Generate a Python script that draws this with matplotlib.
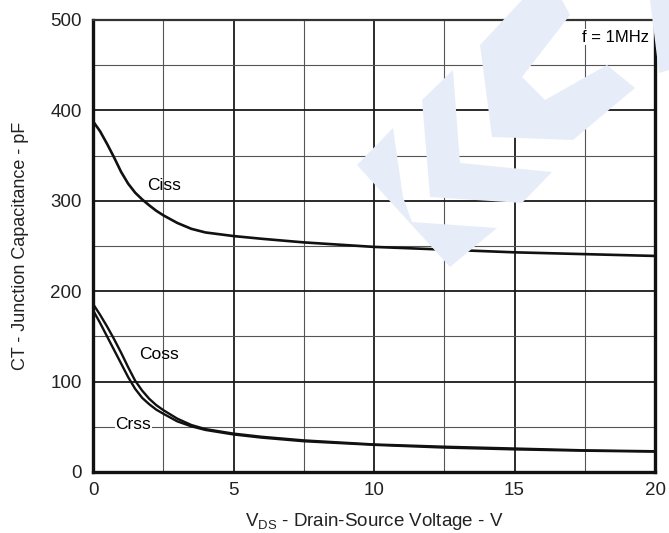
"""Junction capacitance vs drain-source voltage."""

import matplotlib

matplotlib.use("Agg")
import matplotlib.pyplot as plt
from matplotlib.patches import Polygon
from matplotlib.ticker import MultipleLocator

plt.rcParams["font.family"] = ["Liberation Sans", "DejaVu Sans"]
plt.rcParams["mathtext.fontset"] = "custom"
plt.rcParams["mathtext.rm"] = "Liberation Sans"

# capacitance curves read at 1 MHz
vds = [0, 0.25, 0.5, 0.75, 1, 1.25, 1.5, 1.75, 2, 2.25, 2.5, 3, 3.5, 4, 5, 6,
       7.5, 10, 12.5, 15, 17.5, 20]
ciss = [388, 377, 363, 348, 332, 319, 309, 301.5, 295, 289, 284, 275.5, 269, 265,
        261, 258, 254, 249, 246, 243, 241, 239]
coss = [186, 174, 161, 147, 132, 116, 101, 90, 81, 74, 68.5, 59, 52, 47.5,
        42.5, 39, 35, 30.5, 28, 26, 24, 23]
crss = [179, 165, 150, 135, 120, 105, 92, 82, 75, 69, 64.5, 56, 50.5, 46.5,
        41.5, 38, 34, 30, 27, 25, 23.5, 22.5]

curve_labels = ["Ciss", "Coss", "Crss"]
label_pos = [(2.52, 317), (2.35, 130), (1.44, 52)]

x_ticks = [0, 5, 10, 15, 20]
y_ticks = [0, 100, 200, 300, 400, 500]

W, H = 669, 533
fig = plt.figure(figsize=(W / 100, H / 100), dpi=100)

# faint logo in the background (pixel outlines)
logo = [
    [(357, 165), (393, 128), (403, 197), (412, 222), (497, 228), (450, 267)],
    [(422, 100), (453, 70), (460, 163), (552, 172), (522, 203), (430, 197)],
    [(480, 45), (522, 0), (562, 0), (570, 15), (522, 77), (545, 100),
     (607, 65), (635, 88), (573, 140), (492, 137)],
    [(650, 0), (669, 0), (669, 70), (659, 73)],
]
for pts in logo:
    fig.patches.append(Polygon([(x / W, 1 - y / H) for x, y in pts],
                               closed=True, transform=fig.transFigure,
                               facecolor="#e7edf8", edgecolor="none", zorder=0))

ax = fig.add_axes([93 / W, 1 - 472 / H, (655 - 93) / W, (472 - 20) / H])
ax.patch.set_alpha(0)

ax.plot(vds, ciss, color="#111111", lw=1.9, zorder=3)
ax.plot(vds, coss, color="#111111", lw=1.7, zorder=3)
ax.plot(vds, crss, color="#111111", lw=1.7, zorder=3)

for name, (lx, ly) in zip(curve_labels, label_pos):
    bbox = None
    if name == "Crss":
        bbox = dict(facecolor="white", edgecolor="none", pad=0.3)
    ax.text(lx, ly, name, fontsize=12.5, ha="center", va="center", zorder=4, bbox=bbox)

ax.text(18.6, 481, "f = 1MHz", fontsize=12, ha="center", va="center", zorder=4,
        bbox=dict(facecolor="white", edgecolor="none", pad=0.3))

ax.set_xlim(0, 20)
ax.set_ylim(0, 500)
ax.set_xticks(x_ticks)
ax.set_yticks(y_ticks)
ax.xaxis.set_minor_locator(MultipleLocator(2.5))
ax.yaxis.set_minor_locator(MultipleLocator(50))
ax.tick_params(which="both", length=0, labelsize=13.5, colors="#222222")
ax.tick_params(axis="x", pad=7)
ax.tick_params(axis="y", pad=8)
ax.grid(which="major", color="#1a1a1a", lw=1.3, zorder=1)
ax.grid(which="minor", color="#555555", lw=0.8, zorder=1)
ax.set_axisbelow(True)

for side in ["left", "bottom", "right"]:
    ax.spines[side].set_linewidth(2.4)
    ax.spines[side].set_color("#111111")
ax.spines["top"].set_linewidth(1.6)
ax.spines["top"].set_color("#333333")

ax.set_xlabel(r"V$_{\rm DS}$ - Drain-Source Voltage - V", fontsize=13.5,
              color="#222222", va="center")
ax.set_ylabel("CT - Junction Capacitance - pF", fontsize=13,
              color="#222222", va="center")
ax.xaxis.set_label_coords(0.5, (472 - 521) / 452)
ax.yaxis.set_label_coords((20 - 93) / 562, 0.5)

fig.savefig("out.png", dpi=100)
plt.close(fig)
